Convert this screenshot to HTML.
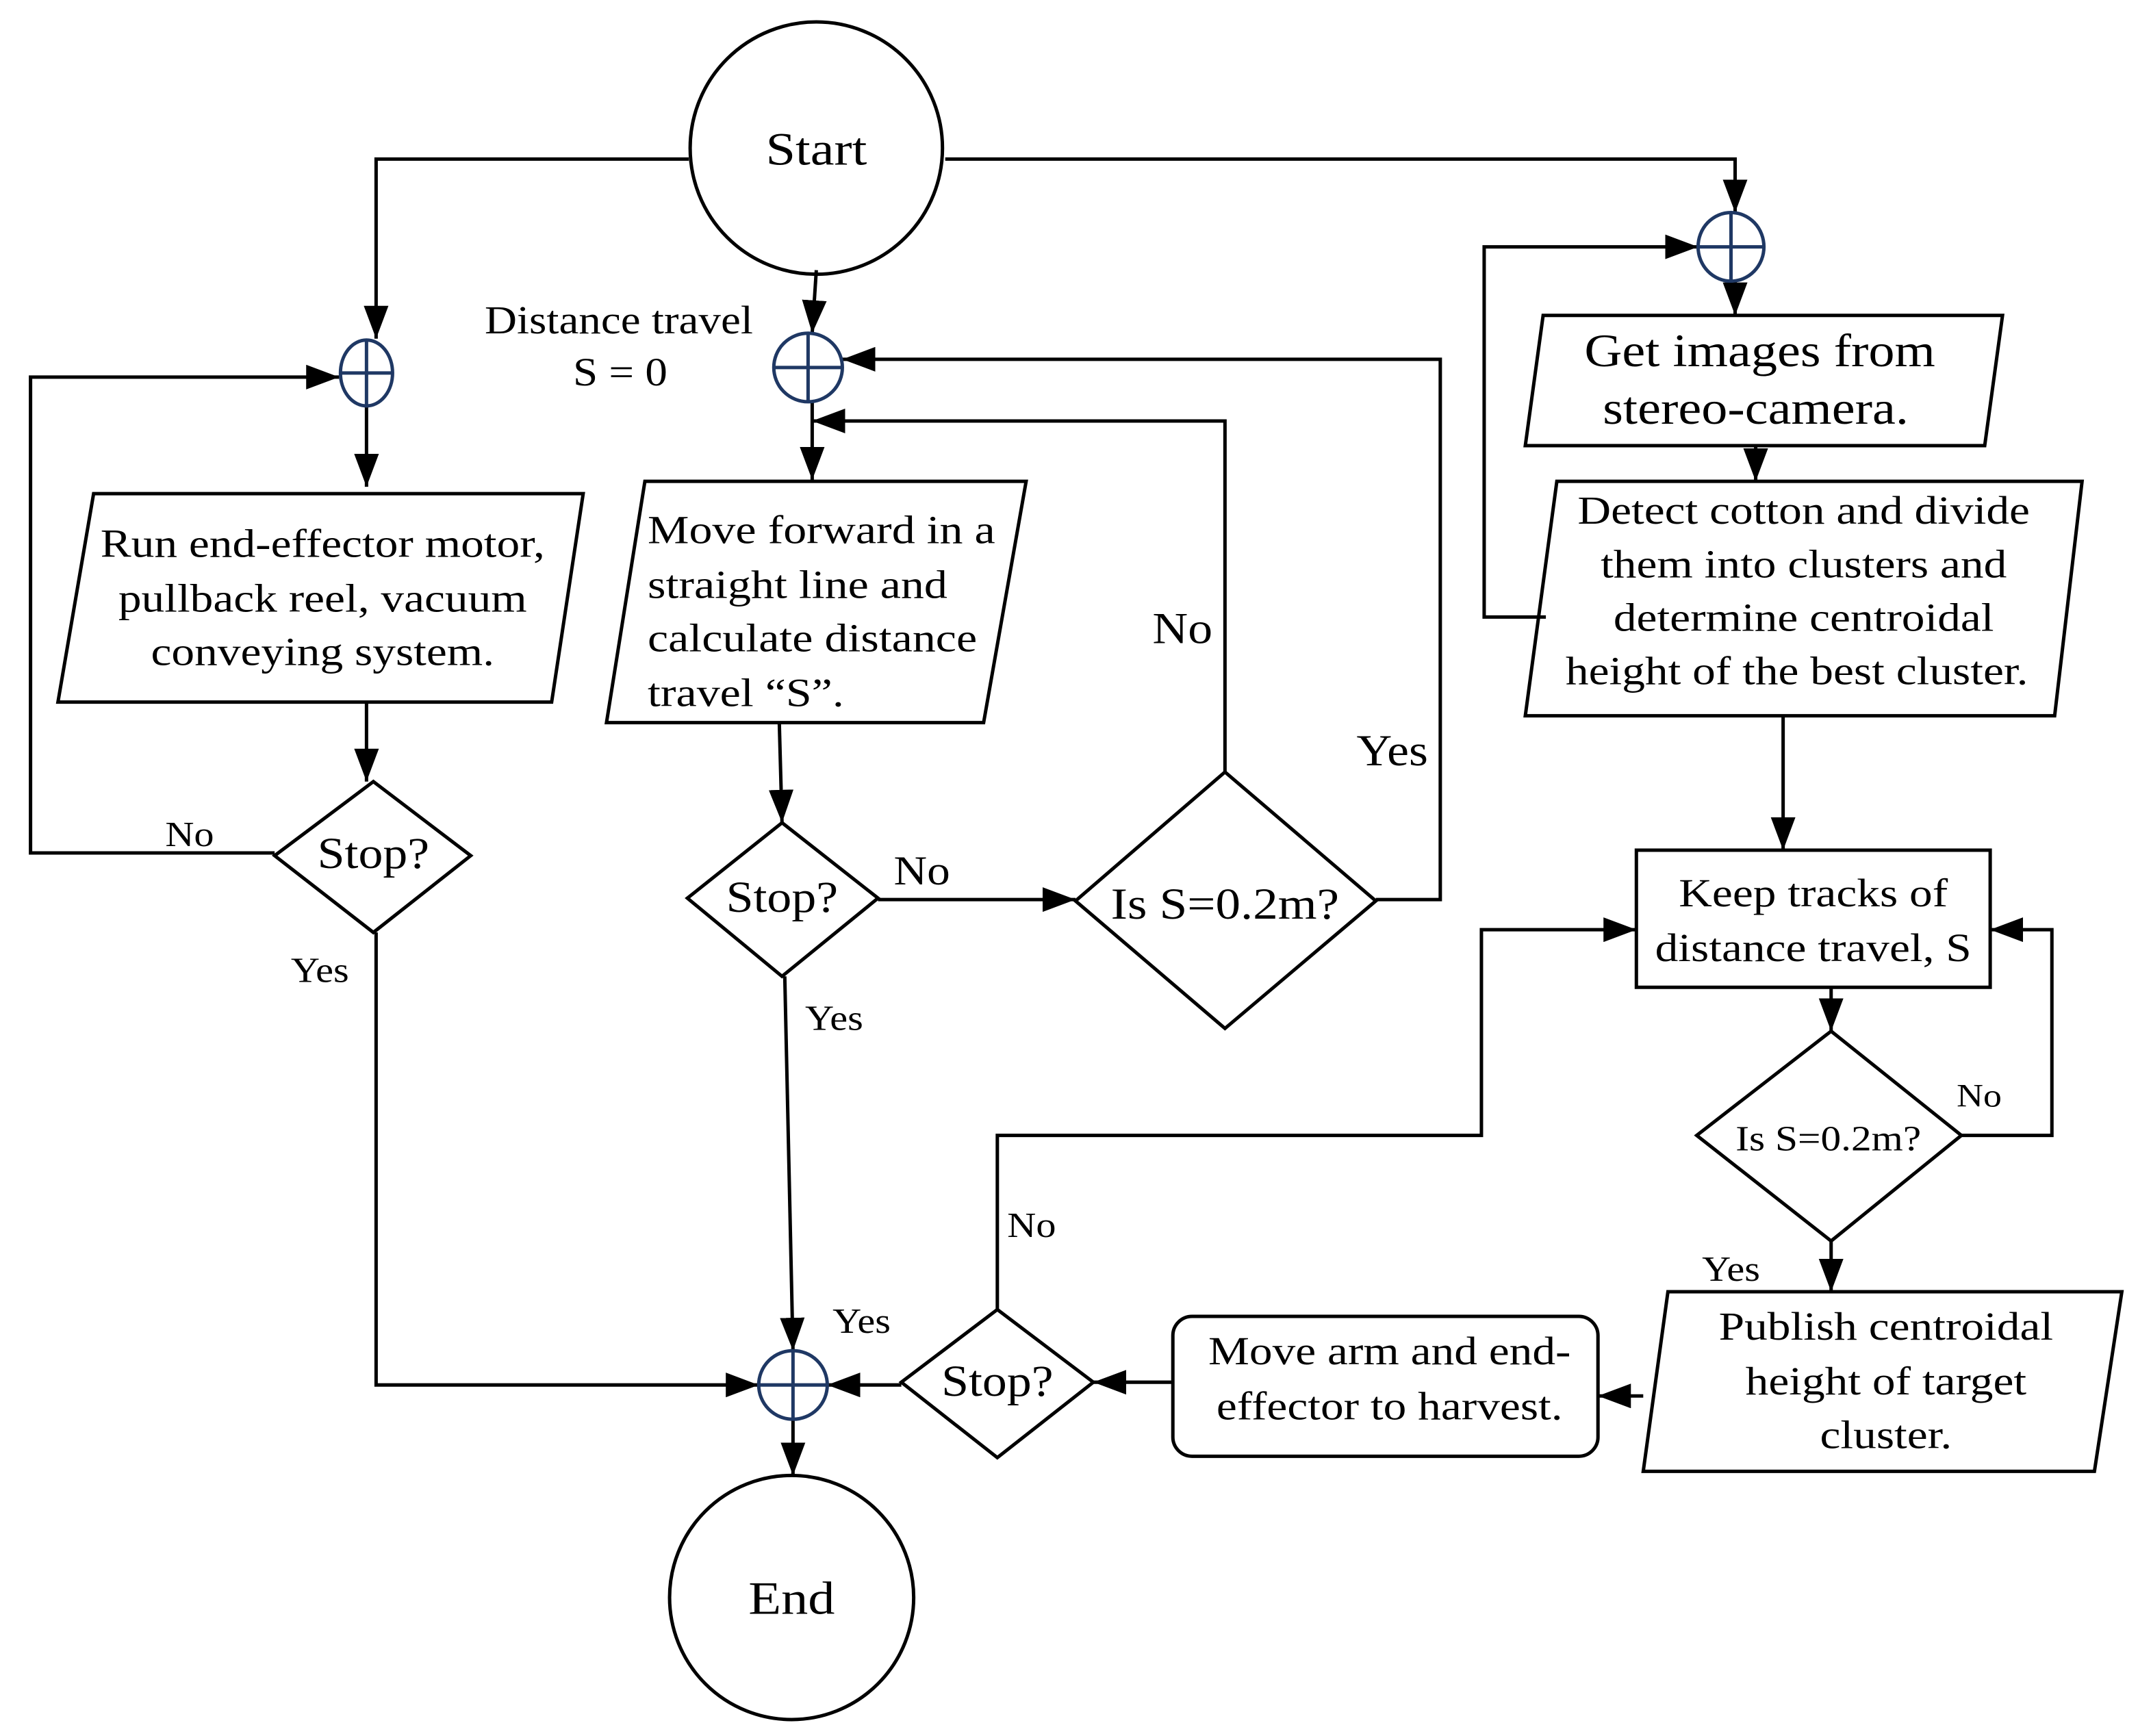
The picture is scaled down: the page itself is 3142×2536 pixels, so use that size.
<!DOCTYPE html>
<html><head><meta charset="utf-8"><style>html,body{margin:0;padding:0;background:#fff}svg{display:block}</style></head>
<body>
<svg width="3142" height="2536" viewBox="0 0 1568 1266" xmlns="http://www.w3.org/2000/svg" font-family="Liberation Serif, serif" font-size="29">
<defs>
<marker id="b" viewBox="0 0 24 18" refX="24" refY="9" markerWidth="24" markerHeight="18" orient="auto" markerUnits="userSpaceOnUse">
<path d="M0,0 L24,9 L0,18 z" fill="#000"/></marker>
</defs>
<g fill="none" stroke="#000" stroke-width="2.5">
<circle cx="595" cy="108" r="92" fill="#fff"/>
<circle cx="577" cy="1165" r="89" fill="#fff"/>
<polygon points="68,360 425,360 402,512 42,512"/>
<polygon points="470,351 748,351 717,527 442,527"/>
<polygon points="1125,230 1460,230 1447,325 1112,325"/>
<polygon points="1135,351 1518,351 1498,522 1112,522"/>
<polygon points="1216,942 1547,942 1527,1073 1198,1073"/>
<rect x="1193" y="620" width="258" height="100"/>
<rect x="855" y="960" width="310" height="102" rx="14"/>
<polygon points="272,570 343,624 272,680 200,624"/>
<polygon points="570,600 640,655 570,712 501,655"/>
<polygon points="893,563 1003,657 893,750 784,657"/>
<polygon points="1335,752 1430,828 1335,905 1237,828"/>
<polygon points="727,955 797,1008 727,1063 657,1008"/>
<polyline points="502,116 274,116 274,247" marker-end="url(#b)"/>
<polyline points="689,116 1265,116 1265,155" marker-end="url(#b)"/>
<polyline points="595,197 592,243" marker-end="url(#b)"/>
<polyline points="200,622 22,622 22,275 247,275" marker-end="url(#b)"/>
<polyline points="267,297 267,355" marker-end="url(#b)"/>
<polyline points="267,512 267,570" marker-end="url(#b)"/>
<polyline points="274,680 274,1010 553,1010" marker-end="url(#b)"/>
<polyline points="592,293 592,350" marker-end="url(#b)"/>
<polyline points="568,527 570,600" marker-end="url(#b)"/>
<polyline points="640,656 784,656" marker-end="url(#b)"/>
<polyline points="893,563 893,307 592,307" marker-end="url(#b)"/>
<polyline points="1003,656 1050,656 1050,262 614,262" marker-end="url(#b)"/>
<polyline points="572,712 578,985" marker-end="url(#b)"/>
<polyline points="1127,450 1082,450 1082,180 1238,180" marker-end="url(#b)"/>
<polyline points="1265,205 1265,230" marker-end="url(#b)"/>
<polyline points="1280,325 1280,351" marker-end="url(#b)"/>
<polyline points="1300,522 1300,620" marker-end="url(#b)"/>
<polyline points="1335,720 1335,752" marker-end="url(#b)"/>
<polyline points="1430,828 1496,828 1496,678 1451,678" marker-end="url(#b)"/>
<polyline points="1335,905 1335,942" marker-end="url(#b)"/>
<polyline points="1198,1018 1165,1018" marker-end="url(#b)"/>
<polyline points="855,1008 797,1008" marker-end="url(#b)"/>
<polyline points="727,955 727,828 1080,828 1080,678 1193,678" marker-end="url(#b)"/>
<polyline points="657,1010 603,1010" marker-end="url(#b)"/>
<polyline points="578,1035 578,1076" marker-end="url(#b)"/>
</g>
<g fill="#fff" stroke="#1f3864" stroke-width="2.5">
<ellipse cx="267" cy="272" rx="19" ry="24"/><path d="M267,248V296M248,272H286"/>
<ellipse cx="589" cy="268" rx="25" ry="25"/><path d="M589,243V293M564,268H614"/>
<ellipse cx="1262" cy="180" rx="24" ry="25"/><path d="M1262,155V205M1238,180H1286"/>
<ellipse cx="578" cy="1010" rx="25" ry="25"/><path d="M578,985V1035M553,1010H603"/>
</g>
<g fill="#000" text-anchor="middle">
<g transform="translate(595,120) scale(1.15,1)"><text font-size="34">Start</text></g>
<g transform="translate(577,1177) scale(1.15,1)"><text font-size="34">End</text></g>
<g transform="translate(235,406) scale(1.16,1)"><text>Run end-effector motor,</text></g>
<g transform="translate(235,446) scale(1.16,1)"><text>pullback reel, vacuum</text></g>
<g transform="translate(235,485) scale(1.16,1)"><text>conveying system.</text></g>
<g text-anchor="start">
<g transform="translate(472,396) scale(1.17,1)"><text>Move forward in a</text></g>
<g transform="translate(472,436) scale(1.17,1)"><text>straight line and</text></g>
<g transform="translate(472,475) scale(1.17,1)"><text>calculate distance</text></g>
<g transform="translate(472,515) scale(1.17,1)"><text>travel “S”.</text></g>
</g>
<g transform="translate(451,243) scale(1.12,1)"><text>Distance travel</text></g>
<g transform="translate(452,281) scale(1.12,1)"><text>S = 0</text></g>
<g transform="translate(1283,267) scale(1.12,1)"><text font-size="34">Get images from</text></g>
<g transform="translate(1280,309) scale(1.12,1)"><text font-size="34">stereo-camera.</text></g>
<g transform="translate(1315,382) scale(1.16,1)"><text>Detect cotton and divide</text></g>
<g transform="translate(1315,421) scale(1.16,1)"><text>them into clusters and</text></g>
<g transform="translate(1315,460) scale(1.16,1)"><text>determine centroidal</text></g>
<g transform="translate(1310,499) scale(1.16,1)"><text>height of the best cluster.</text></g>
<g transform="translate(1322,661) scale(1.16,1)"><text>Keep tracks of</text></g>
<g transform="translate(1322,701) scale(1.16,1)"><text>distance travel, S</text></g>
<g transform="translate(1375,977) scale(1.16,1)"><text>Publish centroidal</text></g>
<g transform="translate(1375,1017) scale(1.16,1)"><text>height of target</text></g>
<g transform="translate(1375,1056) scale(1.16,1)"><text>cluster.</text></g>
<g transform="translate(1013,995) scale(1.16,1)"><text>Move arm and end-</text></g>
<g transform="translate(1013,1035) scale(1.16,1)"><text>effector to harvest.</text></g>
<g transform="translate(272,633) scale(1.12,1)"><text font-size="32">Stop?</text></g>
<g transform="translate(570,665) scale(1.12,1)"><text font-size="32">Stop?</text></g>
<g transform="translate(727,1018) scale(1.12,1)"><text font-size="32">Stop?</text></g>
<g transform="translate(893,670) scale(1.14,1)"><text font-size="32">Is S=0.2m?</text></g>
<g transform="translate(1333,839) scale(1.14,1)"><text font-size="26">Is S=0.2m?</text></g>
<g transform="translate(138,617) scale(1.12,1)"><text font-size="26">No</text></g>
<g transform="translate(233,716) scale(1.12,1)"><text font-size="26">Yes</text></g>
<g transform="translate(672,645) scale(1.12,1)"><text font-size="30">No</text></g>
<g transform="translate(608,751) scale(1.12,1)"><text font-size="26">Yes</text></g>
<g transform="translate(862,469) scale(1.12,1)"><text font-size="32">No</text></g>
<g transform="translate(1015,558) scale(1.12,1)"><text font-size="32">Yes</text></g>
<g transform="translate(1443,807) scale(1.12,1)"><text font-size="24">No</text></g>
<g transform="translate(1262,934) scale(1.12,1)"><text font-size="26">Yes</text></g>
<g transform="translate(752,902) scale(1.12,1)"><text font-size="26">No</text></g>
<g transform="translate(628,972) scale(1.12,1)"><text font-size="26">Yes</text></g>
</g>
</svg>
</body></html>
